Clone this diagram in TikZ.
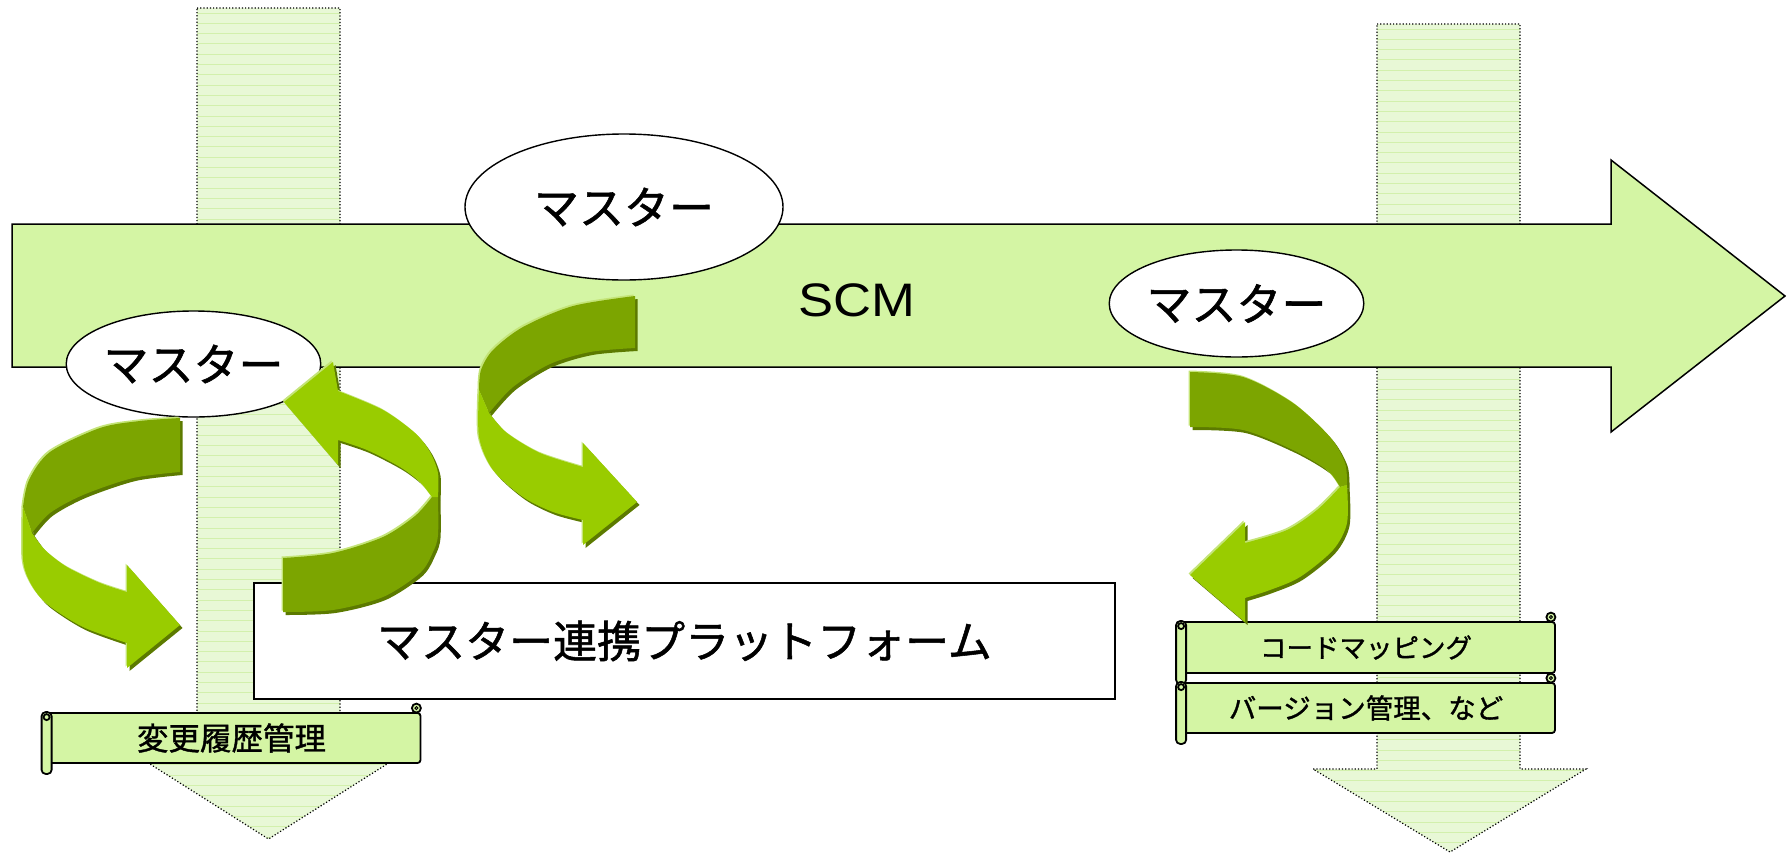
\documentclass[tikz,border=0pt]{standalone}
\usepackage{fontspec}
\newfontfamily\jp[FakeBold=1.2]{Noto Sans CJK JP}
\newfontfamily\arial{Liberation Sans}
\usetikzlibrary{shapes.geometric,calc}
\definecolor{scmfill}{RGB}{212,245,164}
\definecolor{dotfill}{RGB}{232,248,214}
\definecolor{dotline}{RGB}{210,240,172}
\definecolor{darkband}{RGB}{124,165,0}
\definecolor{brightband}{RGB}{153,204,0}
\definecolor{shadowband}{RGB}{92,122,0}
\definecolor{hiband}{RGB}{196,228,120}

% curved ribbon arrows (pixel coordinates)
\def\Adark{plot[smooth] coordinates {(180,418) (140,421) (100,428) (50,452) (29,480) (23,507)} -- (32,533) -- plot[smooth] coordinates {(32,533) (50,513) (83,495) (133,478) (180,472)} -- cycle}
\def\Abright{plot[smooth] coordinates {(23,507) (23,560) (31,584) (47,604) (83,627) (127,643)} -- (127,668) -- (180,625) -- (127,565) -- plot[smooth] coordinates {(127,592) (100,583) (67,567) (45,550) (32,533)} -- cycle}
\def\Bdark{plot[smooth] coordinates {(283,558) (333,553) (383,537) (415,516) (432,497)} -- (438,497) -- plot[smooth] coordinates {(438,497) (438,535) (433,552) (420,573) (383,597) (333,610) (283,612)} -- cycle}
\def\Bbright{plot[smooth] coordinates {(438,497) (438,473) (430,452) (415,433) (383,410) (338,391)} -- (333,362) -- (284,402) -- (338,465) -- plot[smooth] coordinates {(338,440) (367,450) (400,467) (420,482) (432,497)} -- cycle}
\def\Cdark{plot[smooth] coordinates {(635,296) (573,306) (523,327) (493,350) (481,370) (479,390)} -- (489,413) -- plot[smooth] coordinates {(489,413) (513,387) (550,364) (590,352) (635,348)} -- cycle}
\def\Cbright{plot[smooth] coordinates {(479,390) (479,437) (493,470) (523,497) (553,512) (583,520)} -- (583,545) -- (637,502) -- (583,443) -- plot[smooth] coordinates {(583,467) (540,453) (507,433) (489,413)} -- cycle}
\def\Ddark{plot[smooth] coordinates {(1190,372) (1243,377) (1293,403) (1330,437) (1345,463) (1347,485)} -- (1340,487) -- plot[smooth] coordinates {(1340,487) (1327,470) (1293,450) (1243,430) (1190,427)} -- cycle}
\def\Dbright{plot[smooth] coordinates {(1347,485) (1347,523) (1333,550) (1300,577) (1270,590) (1245,598)} -- (1245,622) -- (1190,575) -- (1245,522) -- plot[smooth] coordinates {(1245,543) (1287,530) (1317,510) (1340,487)} -- cycle}

\newcommand\ribbon[2]{%
  \begin{scope}[shift={(2.5,3)}]\fill[shadowband] #1; \fill[shadowband] #2;\end{scope}
  \begin{scope}[shift={(-1.5,-1.5)}]\fill[hiband] #1; \fill[hiband] #2;\end{scope}
  \fill[darkband] #1; \fill[brightband] #2;}

\def\leftdown{(197,8) -- (340,8) -- (340,752) -- (406,752) -- (268.5,839) -- (131,752) -- (197,752) -- cycle}
\def\rightdown{(1377,24) -- (1520,24) -- (1520,769) -- (1586,769) -- (1450,852) -- (1313,769) -- (1377,769) -- cycle}

\newcommand\scrolldeco[1]{%
  \draw[scrollline, rounded corners=4pt] (#1.north west) rectangle ($(#1.south west)+(10,10)$);
  \draw[scrollline] ($(#1.north west)+(5,5)$) circle (3pt);
  \draw[scrollline] ($(#1.north east)+(-5,-4)$) circle (4.5pt);
  \draw[line width=1pt] ($(#1.north east)+(-5,-4)$) circle (1.5pt);}

\begin{document}
\begin{tikzpicture}[x=1pt,y=-1pt,
  dotborder/.style={draw=black, dotted, line width=1.2pt},
  scmarrow/.style={draw=black, fill=scmfill, line width=1.5pt, line join=miter},
  master/.style={ellipse, draw=black, fill=white, line width=1.4pt, inner sep=0pt, font=\jp\fontsize{45}{50}\selectfont},
  platform/.style={rectangle, draw=black, fill=white, line width=1.4pt, inner sep=0pt, font=\jp\fontsize{44}{50}\selectfont},
  scrollline/.style={draw=black, fill=scmfill, line width=1.8pt},
  banner/.style={rectangle, draw=black, fill=scmfill, line width=1.8pt, rounded corners=3pt, inner sep=0pt, minimum width=378pt},
]
\useasboundingbox (0,0) rectangle (1787,854);

% dotted down arrows (background)
\fill[dotfill] \leftdown;
\begin{scope}
  \clip \leftdown;
  \foreach \yy in {13,23.3,...,850} \draw[dotline, line width=1pt] (120,\yy) -- (420,\yy);
\end{scope}
\draw[dotborder] \leftdown;

\fill[dotfill] \rightdown;
\begin{scope}
  \clip \rightdown;
  \foreach \yy in {29,39.3,...,854} \draw[dotline, line width=1pt] (1300,\yy) -- (1600,\yy);
\end{scope}
\draw[dotborder] \rightdown;

% SCM arrow
\draw[scmarrow] (12,224) -- (1611,224) -- (1611,160) -- (1785,296) -- (1611,432) -- (1611,367) -- (12,367) -- cycle;
\node (scm) at (857,300) {\arial\fontsize{47}{50}\selectfont\scalebox{1.12}[1]{SCM}};

% masters
\node[master, minimum width=318pt, minimum height=146pt] (m1) at (624,207) {マスター};
\node[master, minimum width=243pt, minimum height=106pt] (m2) at (193.5,364) {マスター};
\node[master, minimum width=243pt, minimum height=107pt] (m3) at (1236.5,303.5) {マスター};

% platform
\node[platform, minimum width=861pt, minimum height=116pt] (plat) at (684.5,641) {マスター連携プラットフォーム};

% banners
\node[banner, minimum height=50pt, font=\jp\fontsize{31.5}{36}\selectfont] (b1) at (231.5,738) {変更履歴管理};
\scrolldeco{b1}
\node[banner, minimum height=51pt, font=\jp\fontsize{26.5}{30}\selectfont] (b2) at (1366,647.5) {コードマッピング};
\scrolldeco{b2}
\node[banner, minimum height=50pt, font=\jp\fontsize{27.5}{30}\selectfont] (b3) at (1366,708) {バージョン管理、など};
\scrolldeco{b3}

% curved ribbon arrows
\ribbon{\Adark}{\Abright}
\ribbon{\Bdark}{\Bbright}
\ribbon{\Cdark}{\Cbright}
\ribbon{\Ddark}{\Dbright}
\end{tikzpicture}
\end{document}
